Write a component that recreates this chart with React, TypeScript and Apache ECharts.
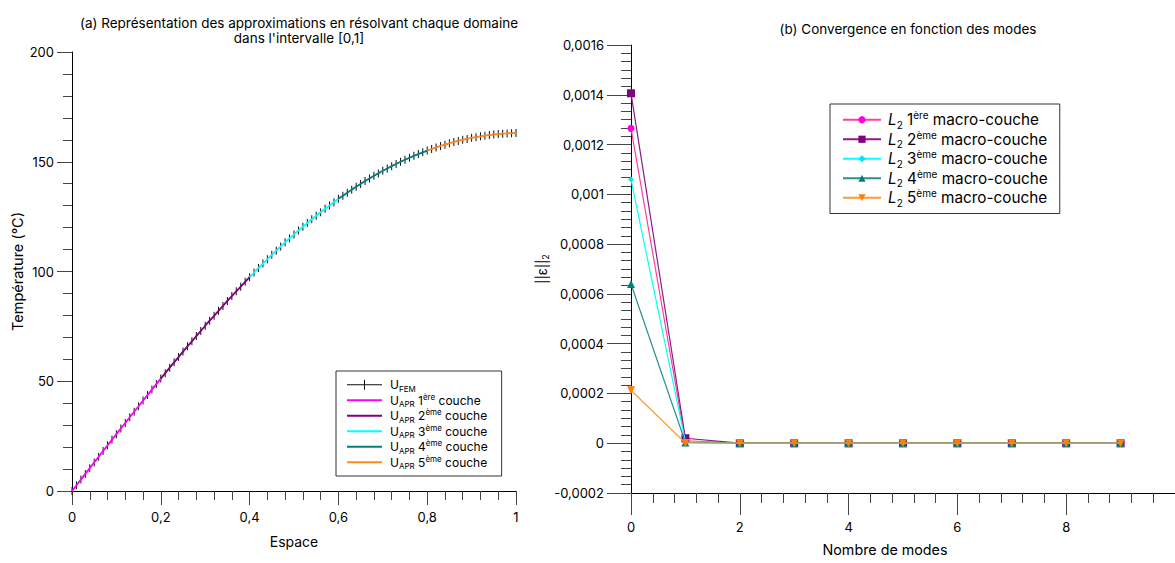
import React, { useEffect, useRef } from "react";
import * as echarts from "echarts";

// ---------- Data: left chart (temperature profile) ----------
const SPACE_X = [
  0, 0.01, 0.02, 0.03, 0.04, 0.05, 0.06, 0.07, 0.08, 0.09,
  0.1, 0.11, 0.12, 0.13, 0.14, 0.15, 0.16, 0.17, 0.18, 0.19,
  0.2, 0.21, 0.22, 0.23, 0.24, 0.25, 0.26, 0.27, 0.28, 0.29,
  0.3, 0.31, 0.32, 0.33, 0.34, 0.35, 0.36, 0.37, 0.38, 0.39,
  0.4, 0.41, 0.42, 0.43, 0.44, 0.45, 0.46, 0.47, 0.48, 0.49,
  0.5, 0.51, 0.52, 0.53, 0.54, 0.55, 0.56, 0.57, 0.58, 0.59,
  0.6, 0.61, 0.62, 0.63, 0.64, 0.65, 0.66, 0.67, 0.68, 0.69,
  0.7, 0.71, 0.72, 0.73, 0.74, 0.75, 0.76, 0.77, 0.78, 0.79,
  0.8, 0.81, 0.82, 0.83, 0.84, 0.85, 0.86, 0.87, 0.88, 0.89,
  0.9, 0.91, 0.92, 0.93, 0.94, 0.95, 0.96, 0.97, 0.98, 0.99,
  1,
];
const U_FEM = [
  0, 2.6, 5.2, 7.8, 10.4, 13.0, 15.6, 18.2, 20.8, 23.3,
  25.9, 28.5, 31.0, 33.6, 36.1, 38.6, 41.2, 43.7, 46.2, 48.7,
  51.2, 53.7, 56.2, 58.6, 61.0, 63.5, 65.9, 68.2, 70.6, 72.9,
  75.3, 77.6, 79.8, 82.1, 84.3, 86.6, 88.8, 91.0, 93.1, 95.3,
  97.4, 99.5, 101.6, 103.6, 105.6, 107.6, 109.5, 111.4, 113.3, 115.1,
  116.9, 118.7, 120.4, 122.1, 123.8, 125.4, 127.0, 128.6, 130.1, 131.6,
  133.1, 134.5, 135.9, 137.3, 138.6, 139.9, 141.2, 142.4, 143.6, 144.7,
  145.9, 146.9, 148.0, 149.0, 150.0, 150.9, 151.8, 152.7, 153.5, 154.3,
  155.1, 155.8, 156.5, 157.2, 157.8, 158.4, 159.0, 159.5, 160.0, 160.4,
  160.9, 161.2, 161.6, 161.9, 162.2, 162.4, 162.6, 162.8, 162.9, 163.0,
  163.1,
];
// index ranges (start, end inclusive) of each macro-layer inside SPACE_X
const LAYER_RANGES = [
  [0, 20],
  [20, 40],
  [40, 60],
  [60, 80],
  [80, 100],
];
const LAYER_LABELS = ["1", "2", "3", "4", "5"];
const LAYER_SUPS = ["ère", "ème", "ème", "ème", "ème"];
const APR_COLORS = ["#ff00ff", "#800080", "#00ffff", "#008080", "#ff8c1a"];
const LEFT_X_TICKS = [0, 0.2, 0.4, 0.6, 0.8, 1];
const LEFT_Y_TICKS = [0, 50, 100, 150, 200];

// ---------- Data: right chart (convergence) ----------
const MODES = [0, 1, 2, 3, 4, 5, 6, 7, 8, 9];
const L2_LAYER1 = [0.001265, 0.00001, 0, 0, 0, 0, 0, 0, 0, 0];
const L2_LAYER2 = [0.001406, 0.00002, 0, 0, 0, 0, 0, 0, 0, 0];
const L2_LAYER3 = [0.00106, 0.000006, 0, 0, 0, 0, 0, 0, 0, 0];
const L2_LAYER4 = [0.00064, 0.000003, 0, 0, 0, 0, 0, 0, 0, 0];
const L2_LAYER5 = [0.000213, 0.000001, 0, 0, 0, 0, 0, 0, 0, 0];
const RIGHT_X_LABEL_MAX = 8;
const RIGHT_X_MAX = 10;
const RIGHT_Y_MIN = -0.0002;
const RIGHT_Y_MAX = 0.0016;
const L2_SERIES = [L2_LAYER1, L2_LAYER2, L2_LAYER3, L2_LAYER4, L2_LAYER5];
const L2_LINE_COLORS = ["#ff3d9e", "#8b1a8b", "#00ffff", "#2a8f8f", "#ff9a33"];
const L2_SYMBOL_COLORS = ["#ff00e6", "#800080", "#00e5ff", "#008080", "#ff8000"];
const L2_SYMBOLS = ["circle", "rect", "diamond", "triangle", "triangle"];
const L2_SYMBOL_SIZES = [7, 8, 6, 8, 8];
const L2_SYMBOL_ROT = [0, 0, 0, 0, 180];

const FONT = "Inter, 'Noto Sans', sans-serif";
const ICON_LINE = "path://M0,4 L35,4 L35,6 L0,6 Z";
const ICON_FEM = "path://M0,4.5 L35,4.5 L35,5.5 L0,5.5 Z M17,0 L18,0 L18,10 L17,10 Z";

function fmtComma(v: number, digits: number) {
  return String(parseFloat(v.toFixed(digits))).replace(".", ",");
}

export default function App() {
  const ref = useRef<HTMLDivElement>(null);

  useEffect(() => {
    if (!ref.current) return;
    const chart = echarts.init(ref.current, undefined, { renderer: "svg" });

    const femData = SPACE_X.map((x, i) => [x, U_FEM[i]]);
    const femName = "U_FEM";
    const aprNames = LAYER_LABELS.map((l) => "U_APR_" + l);
    const l2Names = LAYER_LABELS.map((l) => "L2_" + l);

    const leftSeries: any[] = [
      {
        name: femName,
        type: "line",
        xAxisIndex: 0,
        yAxisIndex: 0,
        data: femData,
        symbol: "rect",
        symbolSize: [1, 8],
        showAllSymbol: true,
        lineStyle: { color: "#000", width: 1 },
        itemStyle: { color: "#111" },
        z: 2,
      },
      ...LAYER_RANGES.map((r, k) => ({
        name: aprNames[k],
        type: "line",
        xAxisIndex: 0,
        yAxisIndex: 0,
        data: femData.slice(r[0], r[1] + 1),
        symbol: "none",
        lineStyle: { color: APR_COLORS[k], width: 1.8 },
        itemStyle: { color: APR_COLORS[k] },
        z: 3,
      })),
    ];

    const rightSeries: any[] = L2_SERIES.map((vals, k) => ({
      name: l2Names[k],
      type: "line",
      xAxisIndex: 1,
      yAxisIndex: 1,
      data: MODES.map((m, i) => [m, vals[i]]),
      symbol: L2_SYMBOLS[k],
      symbolSize: L2_SYMBOL_SIZES[k],
      symbolRotate: L2_SYMBOL_ROT[k],
      showAllSymbol: true,
      lineStyle: { color: L2_LINE_COLORS[k], width: 1.2 },
      itemStyle: { color: L2_SYMBOL_COLORS[k] },
      z: 3 + k,
    }));

    const supSub = {
      sub: { fontSize: 8, lineHeight: 9, verticalAlign: "bottom", fontFamily: FONT, color: "#000" },
      sup: { fontSize: 8, lineHeight: 9, verticalAlign: "top", fontFamily: FONT, color: "#000" },
    };

    const option: any = {
      animation: false,
      textStyle: { fontFamily: FONT, color: "#000" },
      title: [
        {
          text: "(a) Représentation des approximations en résolvant chaque domaine\ndans l'intervalle [0,1]",
          left: 294,
          top: 10,
          textAlign: "center",
          textStyle: { fontSize: 13.5, fontWeight: "normal", color: "#000", lineHeight: 15.5, fontFamily: FONT },
        },
        {
          text: "(b) Convergence en fonction des modes",
          left: 903,
          top: 17,
          textAlign: "center",
          textStyle: { fontSize: 13.5, fontWeight: "normal", color: "#000", fontFamily: FONT },
        },
      ],
      legend: [
        {
          data: [
            { name: femName, icon: ICON_FEM },
            ...aprNames.map((n) => ({ name: n, icon: ICON_LINE })),
          ],
          orient: "vertical",
          left: 336,
          top: 371,
          padding: [6, 14, 6, 11],
          itemGap: 0,
          itemWidth: 35,
          itemHeight: 10,
          borderColor: "#333",
          borderWidth: 1,
          backgroundColor: "#fff",
          selectedMode: false,
          formatter: (name: string) => {
            if (name === femName) return "{u|U}{sub|FEM}";
            const k = aprNames.indexOf(name);
            return "{u|U}{sub|APR} {u|" + LAYER_LABELS[k] + "}{sup|" + LAYER_SUPS[k] + "}{u| couche}";
          },
          textStyle: {
            fontSize: 12,
            lineHeight: 15.5,
            color: "#000",
            fontFamily: FONT,
            padding: [0, 0, 0, 3],
            rich: {
              u: { fontSize: 12, lineHeight: 15.5, fontFamily: FONT, color: "#000" },
              ...supSub,
            },
          },
        },
        {
          data: l2Names,
          orient: "vertical",
          left: 830,
          top: 104,
          padding: [6, 12, 6, 12],
          itemGap: 0,
          itemWidth: 38,
          itemHeight: 9,
          borderColor: "#333",
          borderWidth: 1,
          backgroundColor: "#fff",
          selectedMode: false,
          formatter: (name: string) => {
            const k = l2Names.indexOf(name);
            return "{i|L}{s2|2} {t|" + LAYER_LABELS[k] + "}{sp|" + LAYER_SUPS[k] + "}{t| macro-couche}";
          },
          textStyle: {
            fontSize: 15.3,
            lineHeight: 19.5,
            color: "#000",
            fontFamily: FONT,
            padding: [0, 0, 0, 2],
            rich: {
              i: { fontSize: 15.3, lineHeight: 19.5, fontStyle: "italic", fontFamily: FONT, color: "#000" },
              t: { fontSize: 15.3, lineHeight: 19.5, fontFamily: FONT, color: "#000" },
              s2: { fontSize: 10, lineHeight: 12, verticalAlign: "bottom", fontFamily: FONT, color: "#000" },
              sp: { fontSize: 10, lineHeight: 12, verticalAlign: "top", fontFamily: FONT, color: "#000" },
            },
          },
        },
      ],
      grid: [
        { left: 72, top: 52, width: 444, height: 439 },
        // 1 unit = 57.93 px; the axis runs to 10 but the page edge cuts it near 9.3
        { left: 631, top: 45, width: 579.3, height: 448 },
      ],
      xAxis: [
        {
          type: "value",
          gridIndex: 0,
          min: LEFT_X_TICKS[0],
          max: LEFT_X_TICKS[LEFT_X_TICKS.length - 1],
          interval: 0.2,
          name: "Espace",
          nameLocation: "middle",
          nameGap: 43,
          nameTextStyle: { fontSize: 14, color: "#000", fontFamily: FONT },
          axisLine: { show: true, onZero: false, lineStyle: { color: "#000", width: 1 } },
          axisTick: { show: true, length: 14, lineStyle: { color: "#444" } },
          minorTick: { show: true, splitNumber: 5, length: 9, lineStyle: { color: "#444" } },
          splitLine: { show: false },
          minorSplitLine: { show: false },
          axisLabel: {
            margin: 19,
            fontSize: 13,
            color: "#000",
            fontFamily: FONT,
            formatter: (v: number) => fmtComma(v, 3),
          },
        },
        {
          type: "value",
          gridIndex: 1,
          position: "bottom",
          min: 0,
          max: RIGHT_X_MAX,
          interval: 2,
          name: "Nombre de modes",
          nameLocation: "middle",
          nameGap: 49,
          nameTextStyle: { fontSize: 14.3, color: "#000", fontFamily: FONT, padding: [0, 36, 0, 0] },
          axisLine: { show: true, onZero: false, lineStyle: { color: "#000", width: 1 } },
          axisTick: { show: true, length: 22, lineStyle: { color: "#444" } },
          minorTick: { show: true, splitNumber: 5, length: 10, lineStyle: { color: "#444" } },
          splitLine: { show: false },
          minorSplitLine: { show: false },
          axisLabel: {
            margin: 27,
            fontSize: 13,
            color: "#000",
            fontFamily: FONT,
            showMaxLabel: false,
            formatter: (v: number) => (v > RIGHT_X_LABEL_MAX ? "" : fmtComma(v, 2)),
          },
        },
      ],
      yAxis: [
        {
          type: "value",
          gridIndex: 0,
          min: LEFT_Y_TICKS[0],
          max: LEFT_Y_TICKS[LEFT_Y_TICKS.length - 1],
          interval: 50,
          name: "Température (°C)",
          nameLocation: "middle",
          nameGap: 47,
          nameTextStyle: { fontSize: 14.5, color: "#000", fontFamily: FONT },
          axisLine: { show: true, onZero: false, lineStyle: { color: "#000", width: 1 } },
          axisTick: { show: true, length: 15, lineStyle: { color: "#444" } },
          minorTick: { show: true, splitNumber: 5, length: 9, lineStyle: { color: "#444" } },
          splitLine: { show: false },
          minorSplitLine: { show: false },
          axisLabel: { margin: 18, fontSize: 13, color: "#000", fontFamily: FONT },
        },
        {
          type: "value",
          gridIndex: 1,
          min: RIGHT_Y_MIN,
          max: RIGHT_Y_MAX,
          interval: 0.0002,
          name: "||ε||{s|2}",
          nameLocation: "middle",
          nameGap: 58,
          nameTextStyle: {
            fontSize: 13,
            color: "#000",
            fontFamily: FONT,
            rich: {
              s: { fontSize: 9, lineHeight: 10, verticalAlign: "bottom", fontFamily: FONT, color: "#000" },
            },
            lineHeight: 16,
          },
          axisLine: { show: true, onZero: false, lineStyle: { color: "#000", width: 1 } },
          axisTick: { show: true, length: 24, lineStyle: { color: "#444" } },
          minorTick: { show: true, splitNumber: 6, length: 10, lineStyle: { color: "#444" } },
          splitLine: { show: false },
          minorSplitLine: { show: false },
          axisLabel: {
            margin: 27,
            fontSize: 13,
            color: "#000",
            fontFamily: FONT,
            formatter: (v: number) => fmtComma(v, 6),
          },
        },
      ],
      series: [...leftSeries, ...rightSeries],
    };

    chart.setOption(option);
    return () => chart.dispose();
  }, []);

  return (
    <div
      ref={ref}
      style={{ position: "fixed", left: 0, top: 0, width: 1175, height: 563, background: "#fff" }}
    />
  );
}
